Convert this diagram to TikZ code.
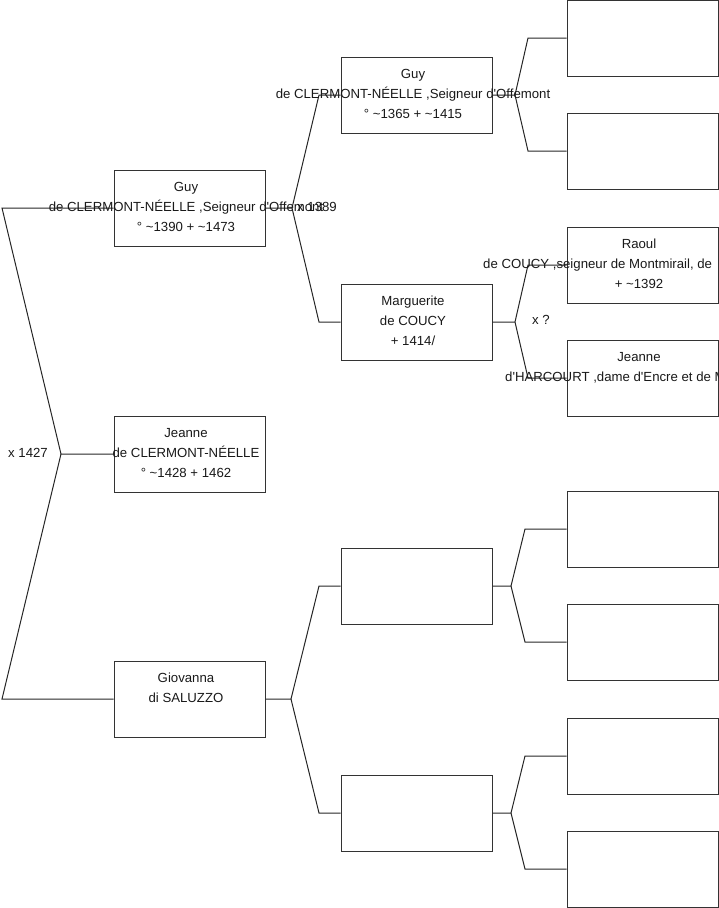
\documentclass[tikz,border=0pt]{standalone}
\usepackage{fontspec}
\newfontfamily\arialfont{Liberation Sans}
\begin{document}
\begin{tikzpicture}[x=1pt,y=-1pt,
  person/.style={draw=black!80, line width=1pt, minimum width=151pt, minimum height=76pt, inner sep=0pt},
  txt/.style={font=\arialfont\fontsize{13.2}{15}\selectfont, inner sep=0pt, anchor=base, text=black!90},
  lbl/.style={font=\arialfont\fontsize{13.2}{15}\selectfont, inner sep=0pt, anchor=base west, text=black!90},
  link/.style={draw=black!85, line width=1pt}]
\useasboundingbox (0,0) rectangle (719,908);
\clip (0,0) rectangle (719,908);
% boxes
\node[person] (jeanne1) at (189.5,454) {};
\node[person] (guy2) at (189.5,208) {};
\node[person] (gio) at (189.5,699) {};
\node[person] (guy3) at (416.5,95) {};
\node[person] (marg) at (416.5,322) {};
\node[person] (e3) at (416.5,586) {};
\node[person] (e4) at (416.5,813) {};
\node[person] (b1) at (642.5,38) {};
\node[person] (b2) at (642.5,151) {};
\node[person] (raoul) at (642.5,265) {};
\node[person] (jeanne4) at (642.5,378) {};
\node[person] (b5) at (642.5,529) {};
\node[person] (b6) at (642.5,642) {};
\node[person] (b7) at (642.5,756) {};
\node[person] (b8) at (642.5,869) {};
% fork coordinates
\coordinate (f1) at (61,454);
\coordinate (f1a) at (2,208);
\coordinate (f1b) at (2,699);
\coordinate (f2) at (292,208);
\coordinate (f2a) at (319,95);
\coordinate (f2b) at (319,322);
\coordinate (f3) at (291,699);
\coordinate (f3a) at (319,586);
\coordinate (f3b) at (319,813);
\coordinate (f4) at (515,95);
\coordinate (f4a) at (528,38);
\coordinate (f4b) at (528,151);
\coordinate (f5) at (515,322);
\coordinate (f5a) at (528,265);
\coordinate (f5b) at (528,378);
\coordinate (f6) at (511,586);
\coordinate (f6a) at (525,529);
\coordinate (f6b) at (525,642);
\coordinate (f7) at (511,813);
\coordinate (f7a) at (525,756);
\coordinate (f7b) at (525,869);
% connectors
\draw[link] (jeanne1.west) -- (f1) -- (f1a) -- (guy2.west);
\draw[link] (f1) -- (f1b) -- (gio.west);
\draw[link] (guy2.east) -- (f2) -- (f2a) -- (guy3.west);
\draw[link] (f2) -- (f2b) -- (marg.west);
\draw[link] (gio.east) -- (f3) -- (f3a) -- (e3.west);
\draw[link] (f3) -- (f3b) -- (e4.west);
\draw[link] (guy3.east) -- (f4) -- (f4a) -- (b1.west);
\draw[link] (f4) -- (f4b) -- (b2.west);
\draw[link] (marg.east) -- (f5) -- (f5a) -- (raoul.west);
\draw[link] (f5) -- (f5b) -- (jeanne4.west);
\draw[link] (e3.east) -- (f6) -- (f6a) -- (b5.west);
\draw[link] (f6) -- (f6b) -- (b6.west);
\draw[link] (e4.east) -- (f7) -- (f7a) -- (b7.west);
\draw[link] (f7) -- (f7b) -- (b8.west);
% texts
\node[txt] (t1a) at (186,437) {Jeanne};
\node[txt] (t1b) at (186,457) {de CLERMONT-NÉELLE};
\node[txt] (t1c) at (186,477) {° \textasciitilde1428 + 1462};
\node[txt] (t2a) at (186,191) {Guy};
\node[txt] (t2b) at (186,211) {de CLERMONT-NÉELLE ,Seigneur d'Offemont};
\node[txt] (t2c) at (186,231) {° \textasciitilde1390 + \textasciitilde1473};
\node[txt] (t3a) at (186,682) {Giovanna};
\node[txt] (t3b) at (186,702) {di SALUZZO};
\node[txt] (t4a) at (413,78) {Guy};
\node[txt] (t4b) at (413,98) {de CLERMONT-NÉELLE ,Seigneur d'Offemont};
\node[txt] (t4c) at (413,118) {° \textasciitilde1365 + \textasciitilde1415};
\node[txt] (t5a) at (413,305) {Marguerite};
\node[txt] (t5b) at (413,325) {de COUCY};
\node[txt] (t5c) at (413,345) {+ 1414/};
\node[txt] (t6a) at (639,248) {Raoul};
\node[lbl] (t6b) at (483,268) {de COUCY ,seigneur de Montmirail, de};
\node[txt] (t6c) at (639,288) {+ \textasciitilde1392};
\node[txt] (t7a) at (639,361) {Jeanne};
\node[lbl] (t7b) at (505,381) {d'HARCOURT ,dame d'Encre et de M};
% marriage labels
\node[lbl] (m1) at (8,457) {x 1427};
\node[lbl] (m2) at (297,211) {x 1389};
\node[lbl] (m3) at (532,324) {x ?};
\end{tikzpicture}
\end{document}
